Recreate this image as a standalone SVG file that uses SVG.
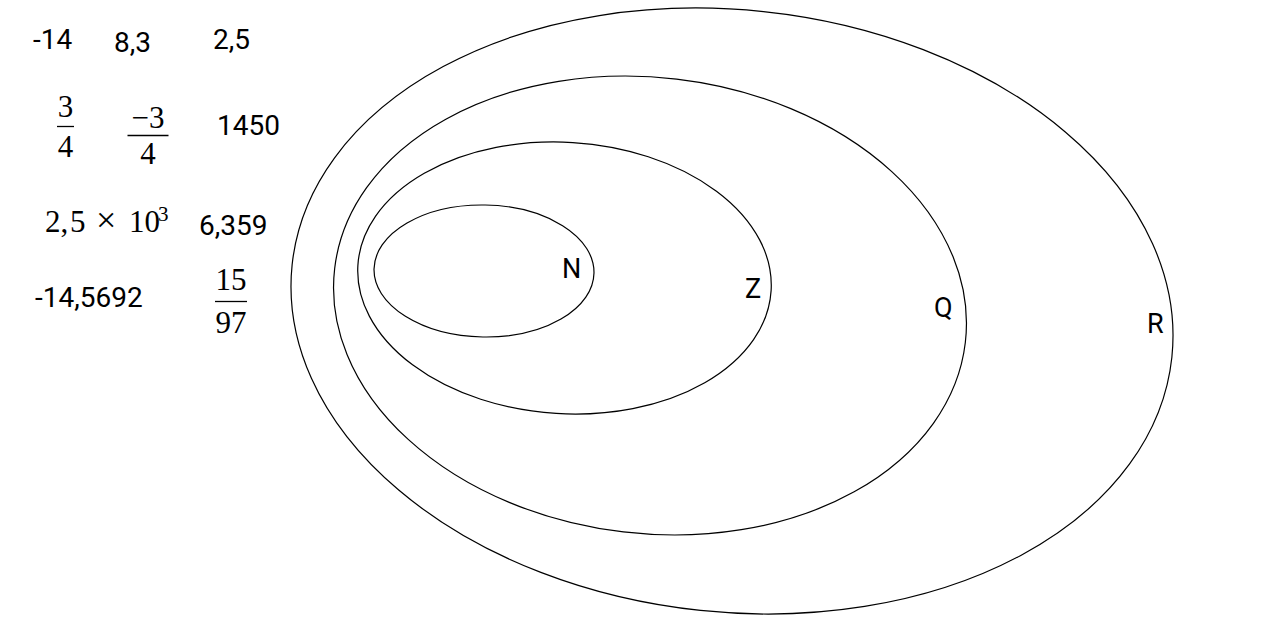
<svg xmlns="http://www.w3.org/2000/svg" width="1280" height="636" viewBox="0 0 1280 636">
<style>
.set{fill:none;stroke:#000;stroke-width:1.2}
.lbl{font-family:Roboto,"Liberation Sans",sans-serif;font-size:27px;fill:#000}
.num{font-family:Roboto,"Liberation Sans",sans-serif;font-size:28px;fill:#000}
.math{font-family:"Liberation Serif","DejaVu Serif",serif;font-size:31px;fill:#000}
.bar{stroke:#000;stroke-width:1.3}
</style>
<rect width="1280" height="636" fill="#fff"/>
<g id="set-R">
<ellipse class="set" cx="732" cy="311" rx="442.3" ry="301.1" transform="rotate(6 732 311)"/>
<text class="lbl" x="1147" y="333">R</text>
</g>
<g id="set-Q">
<ellipse class="set" cx="650" cy="305.5" rx="317.5" ry="228" transform="rotate(6.7 650 305.5)"/>
<text class="lbl" x="934" y="317">Q</text>
</g>
<g id="set-Z">
<ellipse class="set" cx="564.5" cy="278" rx="207" ry="135.7" transform="rotate(3.5 564.5 278)"/>
<text class="lbl" x="745" y="298">Z</text>
</g>
<g id="set-N">
<ellipse class="set" cx="484" cy="271" rx="110" ry="66" transform="rotate(1 484 271)"/>
<text class="lbl" x="562" y="278">N</text>
</g>
<g id="numbers">
<text class="num" x="33" y="49">-14</text>
<text class="num" x="114" y="52">8,3</text>
<text class="num" x="213" y="49">2,5</text>
<text class="num" x="217" y="135">1450</text>
<text class="num" x="199" y="235">6,359</text>
<text class="num" x="35" y="307">-14,5692</text>
<g id="frac-3-4">
<text class="math" x="65.5" y="117" text-anchor="middle">3</text>
<line class="bar" x1="57" y1="126.5" x2="74" y2="126.5"/>
<text class="math" x="65.5" y="157" text-anchor="middle">4</text>
</g>
<g id="frac-m3-4">
<text class="math" x="148" y="128" text-anchor="middle">−3</text>
<line class="bar" x1="127.5" y1="135.5" x2="168.5" y2="135.5"/>
<text class="math" x="148" y="164" text-anchor="middle">4</text>
</g>
<g id="sci">
<text class="math" y="232"><tspan x="45">2,</tspan><tspan x="70">5</tspan><tspan x="96" style="font-size:36px">×</tspan><tspan x="129">10</tspan><tspan x="158" y="221" style="font-size:21px">3</tspan></text>
</g>
<g id="frac-15-97">
<text class="math" x="231" y="290" text-anchor="middle">15</text>
<line class="bar" x1="215" y1="301.5" x2="247" y2="301.5"/>
<text class="math" x="231" y="333" text-anchor="middle">97</text>
</g>
</g>
</svg>
